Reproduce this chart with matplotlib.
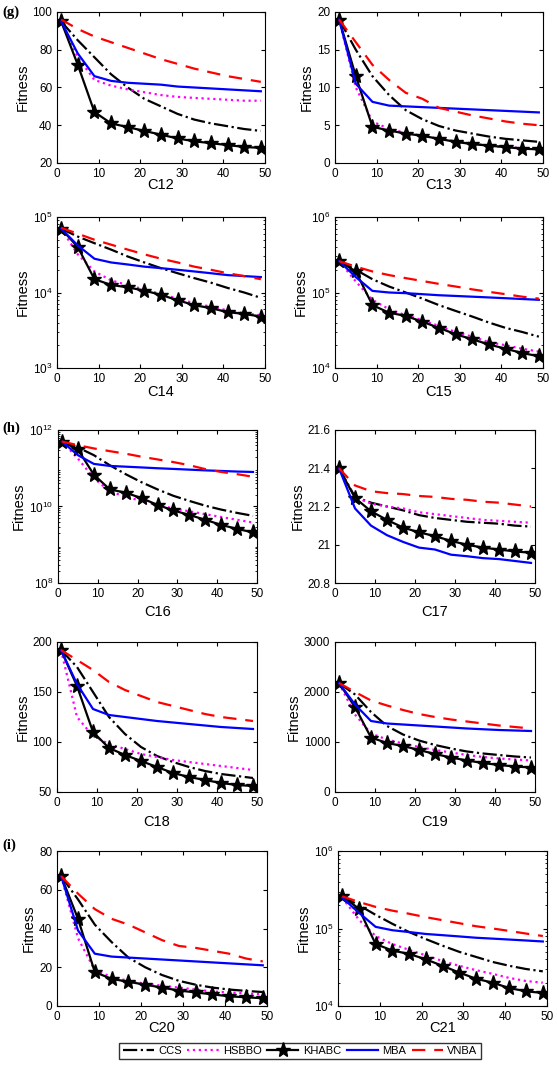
import matplotlib
matplotlib.use("Agg")
import matplotlib.pyplot as plt

plt.rcParams['font.family'] = ['Liberation Sans', 'DejaVu Sans']

# iteration points (every 4th generation)
iters = [1, 5, 9, 13, 17, 21, 25, 29, 33, 37, 41, 45, 49]
names = ['CCS', 'HSBBO', 'KHABC', 'MBA', 'VNBA']

c12_ccs = [95, 85, 76, 67, 60, 54, 50, 46, 43, 41, 39.5, 38, 37]
c12_hsbbo = [95, 76, 64, 61, 59, 57.5, 56, 55, 54.5, 54, 53.5, 53, 53]
c12_khabc = [95, 72, 47, 41, 39, 37, 35, 33, 31.5, 30.5, 29.5, 28.5, 28]
c12_mba = [95, 78, 66, 63.5, 62.5, 62, 61.5, 60.5, 60, 59.5, 59, 58.5, 58]
c12_vnba = [96, 91, 87, 84, 81, 78, 75, 72.5, 70, 68, 66, 64.5, 63]

c13_ccs = [19, 15, 11.5, 9, 7, 5.8, 4.9, 4.3, 3.9, 3.5, 3.2, 3.0, 2.8]
c13_hsbbo = [19, 10, 5.5, 4.5, 4, 3.6, 3.2, 2.9, 2.6, 2.3, 2.1, 2.0, 1.9]
c13_khabc = [19, 11.5, 4.8, 4.3, 3.9, 3.6, 3.2, 2.8, 2.5, 2.3, 2.1, 1.9, 1.8]
c13_mba = [19, 10.5, 8.1, 7.6, 7.5, 7.4, 7.3, 7.2, 7.1, 7.0, 6.9, 6.8, 6.7]
c13_vnba = [19, 16, 13, 11, 9.3, 8.5, 7.3, 6.8, 6.3, 5.9, 5.5, 5.2, 5.0]

c14_ccs = [7e4, 5.5e4, 4.5e4, 3.7e4, 3.0e4, 2.5e4, 2.1e4, 1.8e4, 1.55e4, 1.35e4, 1.15e4, 1.0e4, 8.5e3]
c14_hsbbo = [7e4, 3.2e4, 1.9e4, 1.45e4, 1.25e4, 1.1e4, 9.5e3, 8.3e3, 7.2e3, 6.5e3, 5.8e3, 5.3e3, 5.0e3]
c14_khabc = [7e4, 4.0e4, 1.5e4, 1.26e4, 1.17e4, 1.06e4, 9.3e3, 7.9e3, 6.8e3, 6.2e3, 5.5e3, 5.2e3, 4.8e3]
c14_mba = [7e4, 4.2e4, 2.8e4, 2.5e4, 2.35e4, 2.2e4, 2.1e4, 2.0e4, 1.9e4, 1.8e4, 1.7e4, 1.65e4, 1.6e4]
c14_vnba = [7.2e4, 6.0e4, 5.0e4, 4.3e4, 3.7e4, 3.2e4, 2.8e4, 2.5e4, 2.2e4, 2.0e4, 1.8e4, 1.65e4, 1.5e4]

c15_ccs = [2.6e5, 2.0e5, 1.5e5, 1.2e5, 1.0e5, 8.3e4, 6.8e4, 5.7e4, 4.8e4, 4.0e4, 3.4e4, 3.0e4, 2.6e4]
c15_hsbbo = [2.6e5, 1.4e5, 8e4, 6e4, 5e4, 4.3e4, 3.6e4, 3.0e4, 2.6e4, 2.2e4, 2.0e4, 1.8e4, 1.65e4]
c15_khabc = [2.6e5, 1.9e5, 6.8e4, 5.4e4, 4.9e4, 4.1e4, 3.4e4, 2.8e4, 2.4e4, 2.05e4, 1.8e4, 1.58e4, 1.43e4]
c15_mba = [2.6e5, 1.6e5, 1.05e5, 1.0e5, 9.8e4, 9.5e4, 9.2e4, 9.0e4, 8.8e4, 8.6e4, 8.4e4, 8.2e4, 8.0e4]
c15_vnba = [2.6e5, 2.2e5, 1.9e5, 1.7e5, 1.55e5, 1.42e5, 1.3e5, 1.2e5, 1.1e5, 1.02e5, 9.5e4, 8.8e4, 8.3e4]

c16_ccs = [5e11, 3.5e11, 2.2e11, 1.2e11, 7e10, 4.3e10, 2.8e10, 1.9e10, 1.4e10, 1.05e10, 8.3e9, 6.8e9, 5.7e9]
c16_hsbbo = [5e11, 1.8e11, 5.5e10, 2.5e10, 1.8e10, 1.4e10, 1.1e10, 8.9e9, 7.5e9, 6.3e9, 5.3e9, 4.5e9, 3.8e9]
c16_khabc = [5e11, 3.1e11, 6.8e10, 2.8e10, 2.3e10, 1.65e10, 1.1e10, 7.9e9, 6.0e9, 4.5e9, 3.3e9, 2.6e9, 2.1e9]
c16_mba = [5e11, 2.2e11, 1.3e11, 1.15e11, 1.1e11, 1.05e11, 1.0e11, 9.6e10, 9.2e10, 8.8e10, 8.5e10, 8.2e10, 8.0e10]
c16_vnba = [5e11, 4e11, 3.3e11, 2.8e11, 2.4e11, 2.0e11, 1.7e11, 1.45e11, 1.2e11, 9.5e10, 8.0e10, 7.0e10, 6.0e10]

c17_ccs = [21.4, 21.25, 21.22, 21.2, 21.18, 21.155, 21.14, 21.13, 21.12, 21.115, 21.11, 21.1, 21.095]
c17_hsbbo = [21.4, 21.25, 21.215, 21.2, 21.19, 21.17, 21.16, 21.15, 21.14, 21.13, 21.125, 21.12, 21.115]
c17_khabc = [21.4, 21.245, 21.175, 21.13, 21.09, 21.065, 21.045, 21.02, 21.0, 20.985, 20.975, 20.965, 20.958]
c17_mba = [21.4, 21.19, 21.1, 21.05, 21.015, 20.985, 20.975, 20.948, 20.94, 20.93, 20.925, 20.915, 20.905]
c17_vnba = [21.4, 21.31, 21.28, 21.27, 21.265, 21.255, 21.25, 21.24, 21.235, 21.225, 21.22, 21.21, 21.2]

c18_ccs = [192, 175, 150, 125, 108, 95, 86, 80, 75, 71, 68, 66, 64]
c18_hsbbo = [192, 125, 106, 98, 93, 88, 85, 82, 80, 78, 76, 74, 72]
c18_khabc = [192, 156, 110, 94, 87, 81, 75, 69, 65, 62, 59, 57, 56]
c18_mba = [192, 158, 133, 127, 125, 123, 121, 119.5, 118, 116.5, 115, 114, 113]
c18_vnba = [192, 182, 172, 160, 152, 146, 140, 136, 132, 128, 125, 123, 121]

c19_ccs = [2180, 1950, 1600, 1320, 1150, 1030, 940, 870, 810, 770, 740, 710, 690]
c19_hsbbo = [2180, 1550, 1170, 1050, 970, 900, 840, 790, 740, 700, 670, 650, 630]
c19_khabc = [2180, 1700, 1090, 980, 920, 840, 760, 690, 630, 580, 540, 510, 490]
c19_mba = [2180, 1750, 1420, 1370, 1350, 1330, 1310, 1290, 1270, 1255, 1240, 1230, 1220]
c19_vnba = [2180, 2000, 1830, 1730, 1640, 1560, 1500, 1450, 1410, 1370, 1330, 1300, 1270]

c20_ccs = [67, 55, 42, 33, 25, 20, 16, 13, 11, 9.5, 8.5, 7.8, 7.2]
c20_hsbbo = [67, 35, 18.5, 15, 13, 11.5, 10.5, 9.5, 8.5, 7.5, 7, 6.5, 6]
c20_khabc = [67, 45, 17.5, 14, 12.5, 11, 9.5, 8, 7, 6, 5, 4.5, 4]
c20_mba = [67, 39, 27, 25.5, 25, 24.5, 24, 23.5, 23, 22.5, 22, 21.5, 21]
c20_vnba = [67, 58, 50, 45, 42, 38, 34, 31, 30, 28.5, 27, 24.5, 23]

c21_ccs = [2.6e5, 2.0e5, 1.5e5, 1.15e5, 9e4, 7.3e4, 6e4, 5e4, 4.3e4, 3.7e4, 3.3e4, 3.0e4, 2.8e4]
c21_hsbbo = [2.5e5, 1.3e5, 8e4, 6.3e4, 5.3e4, 4.5e4, 3.8e4, 3.3e4, 2.9e4, 2.6e4, 2.3e4, 2.1e4, 2.0e4]
c21_khabc = [2.6e5, 1.8e5, 6.3e4, 5.2e4, 4.7e4, 4.0e4, 3.3e4, 2.7e4, 2.25e4, 2.0e4, 1.7e4, 1.55e4, 1.47e4]
c21_mba = [2.5e5, 1.6e5, 1.05e5, 9.5e4, 9e4, 8.5e4, 8.2e4, 7.9e4, 7.6e4, 7.4e4, 7.2e4, 7.0e4, 6.8e4]
c21_vnba = [2.6e5, 2.2e5, 1.9e5, 1.7e5, 1.55e5, 1.4e5, 1.28e5, 1.17e5, 1.07e5, 1.0e5, 9.3e4, 8.6e4, 8.0e4]

W, H = 557, 1065
fig = plt.figure(figsize=(W / 100, H / 100), dpi=100)


def box(x0, x1, y0, y1):
    # pixel box -> figure fraction
    return [x0 / W, 1 - y1 / H, (x1 - x0) / W, (y1 - y0) / H]


# (title, data, rect, log?, ylim, yticks, xlabel y pixel)
panels = [
    ('C12', [c12_ccs, c12_hsbbo, c12_khabc, c12_mba, c12_vnba], box(57, 265, 12, 163), False, (20, 100), [20, 40, 60, 80, 100], 185),
    ('C13', [c13_ccs, c13_hsbbo, c13_khabc, c13_mba, c13_vnba], box(335, 543, 12, 163), False, (0, 20), [0, 5, 10, 15, 20], 185),
    ('C14', [c14_ccs, c14_hsbbo, c14_khabc, c14_mba, c14_vnba], box(57, 265, 217, 368), True, (1e3, 1e5), [1e3, 1e4, 1e5], 392),
    ('C15', [c15_ccs, c15_hsbbo, c15_khabc, c15_mba, c15_vnba], box(335, 543, 217, 368), True, (1e4, 1e6), [1e4, 1e5, 1e6], 392),
    ('C16', [c16_ccs, c16_hsbbo, c16_khabc, c16_mba, c16_vnba], box(58, 257, 430, 583), True, (1e8, 1e12), [1e8, 1e10, 1e12], 612),
    ('C17', [c17_ccs, c17_hsbbo, c17_khabc, c17_mba, c17_vnba], box(335, 535, 430, 583), False, (20.8, 21.6), [20.8, 21, 21.2, 21.4, 21.6], 612),
    ('C18', [c18_ccs, c18_hsbbo, c18_khabc, c18_mba, c18_vnba], box(57, 257, 642, 792), False, (50, 200), [50, 100, 150, 200], 822),
    ('C19', [c19_ccs, c19_hsbbo, c19_khabc, c19_mba, c19_vnba], box(335, 535, 642, 792), False, (0, 3000), [0, 1000, 2000, 3000], 822),
    ('C20', [c20_ccs, c20_hsbbo, c20_khabc, c20_mba, c20_vnba], box(57, 267, 851, 1006), False, (0, 80), [0, 20, 40, 60, 80], 1028),
    ('C21', [c21_ccs, c21_hsbbo, c21_khabc, c21_mba, c21_vnba], box(338, 547, 851, 1006), True, (1e4, 1e6), [1e4, 1e5, 1e6], 1028),
]

styles = [
    dict(color='black', linestyle='-.', linewidth=1.6),
    dict(color='#ff00ff', linestyle=':', linewidth=1.6),
    dict(color='black', linestyle='-', linewidth=1.6, marker='*', markersize=11),
    dict(color='#0000ff', linestyle='-', linewidth=1.6),
    dict(color='#ff0000', linestyle=(0, (6, 4)), linewidth=1.6),
]

handles = []
for title, series, rect, logy, ylim, yticks, ylab in panels:
    ax = fig.add_axes(rect)
    lines = []
    for s, st in zip(series, styles):
        ln, = ax.plot(iters, s, **st)
        lines.append(ln)
    if not handles:
        handles = lines
    if logy:
        ax.set_yscale('log')
    ax.set_ylim(*ylim)
    ax.set_yticks(yticks)
    if title == 'C17':
        ax.set_yticklabels(['20.8', '21', '21.2', '21.4', '21.6'])
    ax.set_xlim(0, 50)
    ax.set_xticks([0, 10, 20, 30, 40, 50])
    ax.tick_params(direction='in', top=True, right=True, which='both', labelsize=8.5, length=3)
    ax.tick_params(which='minor', length=1.5)
    ax.set_ylabel('Fitness', fontsize=10.5, labelpad=2)
    fig.text(rect[0] + rect[2] / 2, 1 - ylab / H, title, ha='center', va='center', fontsize=10.5)

for lab, yp in [('(g)', 12), ('(h)', 428), ('(i)', 845)]:
    fig.text(2 / W, 1 - yp / H, lab, ha='left', va='center', fontsize=10.5,
             fontweight='bold', family=['Liberation Serif', 'DejaVu Serif'])

fig.legend(handles, names, loc='center', bbox_to_anchor=(300 / W, 1 - 1051 / H), ncol=5,
           fontsize=8, frameon=True, fancybox=False, edgecolor='black', handlelength=2.8,
           columnspacing=0.5, handletextpad=0.4, borderpad=0.3, markerscale=1.0)

fig.savefig('out.png', dpi=100)
